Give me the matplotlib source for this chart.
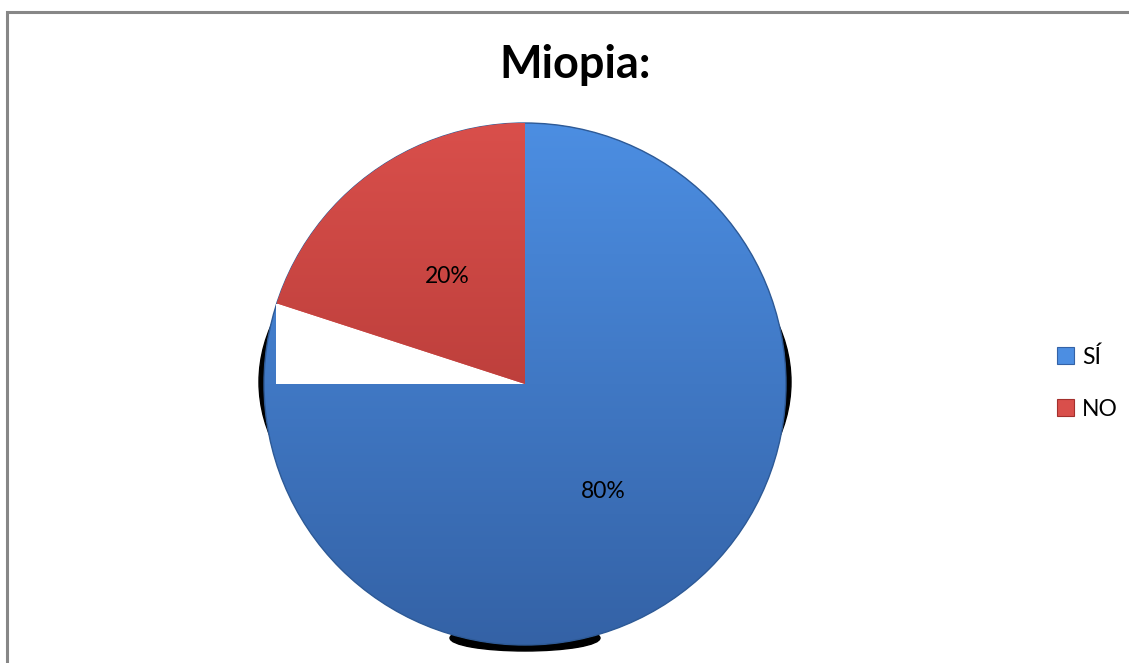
import matplotlib
matplotlib.use("Agg")
import matplotlib.pyplot as plt
from matplotlib.patches import Rectangle, Ellipse
from matplotlib.colors import LinearSegmentedColormap
import numpy as np

labels = ["SÍ", "NO"]
values = [80, 20]
title = "Miopia:"

top_cols = ["#4c8ee2", "#d94f4b"]
bot_cols = ["#3462a6", "#a3302d"]

W, H = 1129, 663
fig = plt.figure(figsize=(W / 100, H / 100), dpi=100)
ax = fig.add_axes([0, 0, 1, 1])

cx, cy, r = 525, 279, 261
fonts = ["Lato", "DejaVu Sans"]

# outer chart frame (cut at right/bottom)
ax.add_patch(Rectangle((7, -20), W + 60, H - 12 + 20, fill=False,
                       edgecolor="#878787", lw=2.2, zorder=0))

# thin shadow crescents around the pie
ax.add_patch(Ellipse((cx, cy + 2), 2 * 266, 2 * 190, color="black", zorder=1))
ax.add_patch(Ellipse((cx, cy - 254), 150, 26, color="black", zorder=1))

wedges, texts, autotexts = ax.pie(
    values, labels=None, startangle=90, counterclock=False,
    center=(cx, cy), radius=r, autopct="%1.0f%%", pctdistance=0.51,
    colors=top_cols, frame=True,
    wedgeprops=dict(linewidth=0, zorder=2),
    textprops=dict(fontsize=16.5, color="black", family=fonts))
ax.set_xlim(0, W)
ax.set_ylim(0, H)
ax.set_aspect("equal")
ax.axis("off")

# vertical shading inside each slice
grad = np.linspace(0, 1, 256).reshape(-1, 1)
ims = []
for i, w in enumerate(wedges):
    cmap = LinearSegmentedColormap.from_list("g%d" % i, [bot_cols[i], top_cols[i]])
    im = ax.imshow(grad, cmap=cmap, origin="lower", aspect="auto",
                   extent=[cx - r, cx + r, cy - r, cy + r])
    im.set_clip_path(w)
    w.set_edgecolor("none")
    ims.append(im)
ax.set_xlim(0, W)
ax.set_ylim(0, H)

wedges[0].set_zorder(2)
ims[0].set_zorder(2.1)
ax.add_patch(Ellipse((cx, cy), 2 * r, 2 * r, fill=False,
                     edgecolor="#2e5a96", lw=1.0, zorder=2.2))
# blank patch left of the center
ax.add_patch(Rectangle((cx - 0.955 * r, cy), 0.955 * r, 0.305 * r,
                       facecolor="white", edgecolor="none", zorder=3))
wedges[1].set_zorder(3.4)
ims[1].set_zorder(3.5)

for t in autotexts:
    t.set_zorder(5)

ax.text(575, H - 65, title, ha="center", va="center", fontsize=32.5,
        fontweight="bold", family=fonts)

handles = [Rectangle((0, 0), 1, 1, facecolor=c, edgecolor=b, lw=0.8)
           for c, b in zip(top_cols, bot_cols)]
ax.legend(handles, labels, loc="center left",
          bbox_to_anchor=(1057 / W, (H - 383) / H), frameon=False,
          borderaxespad=0, borderpad=0,
          handlelength=0.75, handleheight=0.75,
          handletextpad=0.35, labelspacing=1.35,
          prop=dict(family=fonts, size=16.5))

fig.savefig("out.png", dpi=100, facecolor="white")
